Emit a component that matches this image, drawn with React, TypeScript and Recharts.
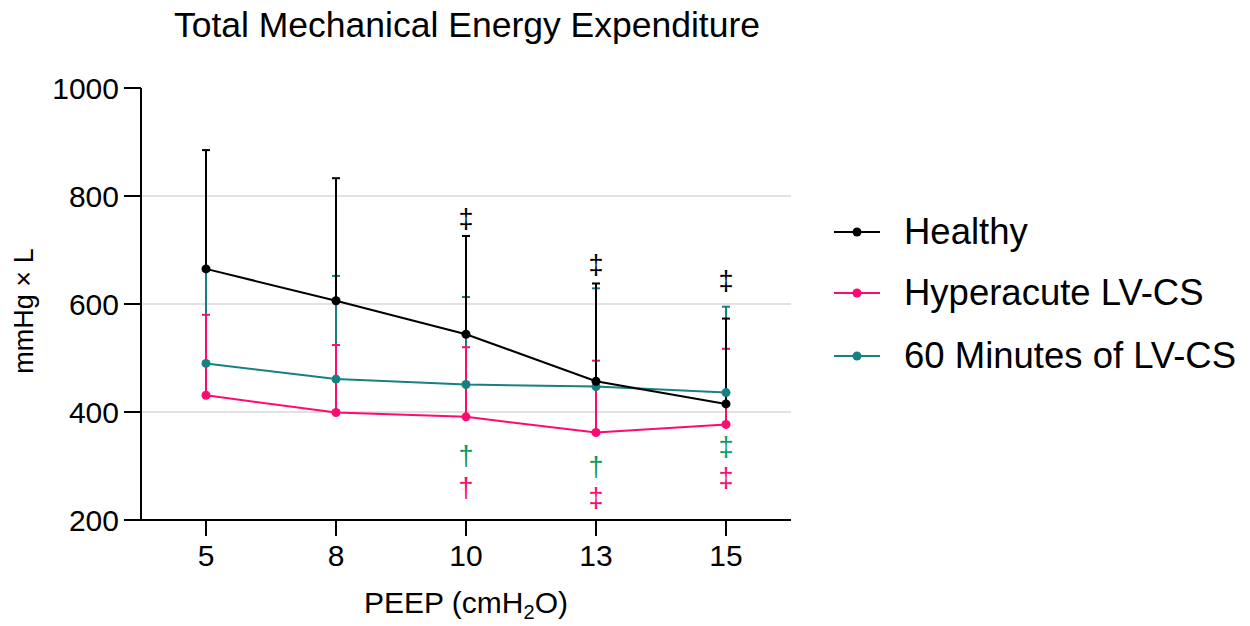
import React from 'react'
import { LineChart, Line, XAxis, YAxis, ErrorBar, Legend, ReferenceLine } from 'recharts'

const FONT = '"Liberation Sans", Arial, sans-serif'

const peep = ['5', '8', '10', '13', '15']

const healthy = [665, 606, 544, 457, 415]
const healthySd = [220, 227, 182, 181, 158]
const hyperacute = [431, 399, 391, 362, 377]
const hyperacuteSd = [149, 125, 129, 133, 140]
const sixtyMin = [490, 461, 451, 447, 436]
const sixtyMinSd = [172, 191, 162, 182, 159]

// significance marks and where they sit (in y units)
const healthyMarks = [null, null, '‡', '‡', '‡']
const healthyMarkY = [null, null, 757, 672, 643]
const sixtyMarks = [null, null, '†', '†', '‡']
const sixtyMarkY = [null, null, 318, 299, 336]
const hyperMarks = [null, null, '†', '‡', '‡']
const hyperMarkY = [null, null, 260, 240, 277]

const yTicks = [200, 400, 600, 800, 1000]
const gridLines = [400, 600, 800]

const series = [
  { name: 'Healthy', color: '#000000' },
  { name: 'Hyperacute LV-CS', color: '#ff0a6e' },
  { name: '60 Minutes of LV-CS', color: '#178080' },
]

const data = peep.map((p, i) => ({
  peep: p,
  healthy: healthy[i],
  healthyErr: [0, healthySd[i]],
  hyper: hyperacute[i],
  hyperErr: [0, hyperacuteSd[i]],
  sixty: sixtyMin[i],
  sixtyErr: [0, sixtyMinSd[i]],
  healthyMark: healthyMarkY[i],
  sixtyMark: sixtyMarkY[i],
  hyperMark: hyperMarkY[i],
}))

const markDot = (marks: (string | null)[], color: string) => (props: any) => {
  const { cx, cy, index } = props
  if (cx == null || cy == null || !marks[index]) return <g key={`m${index}`} />
  return (
    <text
      key={`m${index}`}
      x={cx}
      y={cy}
      textAnchor="middle"
      dominantBaseline="central"
      fill={color}
      fontSize={27}
      fontFamily={FONT}
    >
      {marks[index]}
    </text>
  )
}

function LegendBox() {
  return (
    <div style={{ fontFamily: FONT, fontSize: 36.5, color: '#000' }}>
      {series.map((s, i) => (
        <div key={s.name} style={{ display: 'flex', alignItems: 'center', height: i === 0 ? 59 : 63 }}>
          <svg width={50} height={20} style={{ marginRight: 24 }}>
            <line x1={4} y1={10} x2={50} y2={10} stroke={s.color} strokeWidth={2} />
            <circle cx={27} cy={10} r={4.5} fill={s.color} />
          </svg>
          <span>{s.name}</span>
        </div>
      ))}
    </div>
  )
}

export default function App() {
  return (
    <div style={{ width: 1250, height: 626 }}>
      <style>{'body{margin:0}'}</style>
      <LineChart
        width={1250}
        height={626}
        data={data}
        margin={{ top: 88, right: 459, bottom: 16, left: 41 }}
        style={{ fontFamily: FONT }}
      >
        {gridLines.map((g) => (
          <ReferenceLine key={g} y={g} stroke="#d9d9d9" strokeWidth={1.5} />
        ))}
        <XAxis
          dataKey="peep"
          padding={{ left: 65, right: 65 }}
          height={90}
          tickSize={16}
          tickMargin={9}
          axisLine={{ stroke: '#000', strokeWidth: 2 }}
          tickLine={{ stroke: '#000', strokeWidth: 2 }}
          tick={{ fill: '#000', fontSize: 30, fontFamily: FONT }}
        />
        <YAxis
          domain={[200, 1000]}
          ticks={yTicks}
          width={100}
          tickSize={17}
          tickMargin={5}
          axisLine={{ stroke: '#000', strokeWidth: 2 }}
          tickLine={{ stroke: '#000', strokeWidth: 2 }}
          tick={{ fill: '#000', fontSize: 30, fontFamily: FONT }}
        />
        <Line
          dataKey="sixty"
          stroke={series[2].color}
          strokeWidth={2}
          dot={{ r: 4.5, fill: series[2].color, stroke: 'none' }}
          isAnimationActive={false}
        >
          <ErrorBar dataKey="sixtyErr" width={4} stroke={series[2].color} strokeWidth={2} />
        </Line>
        <Line
          dataKey="hyper"
          stroke={series[1].color}
          strokeWidth={2}
          dot={{ r: 4.5, fill: series[1].color, stroke: 'none' }}
          isAnimationActive={false}
        >
          <ErrorBar dataKey="hyperErr" width={4} stroke={series[1].color} strokeWidth={2} />
        </Line>
        <Line
          dataKey="healthy"
          stroke={series[0].color}
          strokeWidth={2}
          dot={{ r: 4.5, fill: series[0].color, stroke: 'none' }}
          isAnimationActive={false}
        >
          <ErrorBar dataKey="healthyErr" width={4} stroke={series[0].color} strokeWidth={2} />
        </Line>
        <Line dataKey="healthyMark" stroke="none" dot={markDot(healthyMarks, '#000')} isAnimationActive={false} legendType="none" />
        <Line dataKey="sixtyMark" stroke="none" dot={markDot(sixtyMarks, '#0a9a68')} isAnimationActive={false} legendType="none" />
        <Line dataKey="hyperMark" stroke="none" dot={markDot(hyperMarks, '#ff0a6e')} isAnimationActive={false} legendType="none" />
        <Legend
          layout="horizontal"
          verticalAlign="middle"
          align="center"
          wrapperStyle={{ left: 830, top: 202, width: 420 }}
          content={() => <LegendBox />}
        />
        <text x={467} y={37} textAnchor="middle" fontSize={35.5} fontFamily={FONT} fill="#000">
          Total Mechanical Energy Expenditure
        </text>
        <text
          x={0}
          y={0}
          transform="translate(33 311) rotate(-90)"
          textAnchor="middle"
          fontSize={27}
          fontFamily={FONT}
          fill="#000"
        >
          mmHg × L
        </text>
        <text x={466} y={613} textAnchor="middle" fontSize={30} fontFamily={FONT} fill="#000">
          PEEP (cmH
          <tspan fontSize={20} dy={6}>2</tspan>
          <tspan dy={-6}>O)</tspan>
        </text>
      </LineChart>
    </div>
  )
}
